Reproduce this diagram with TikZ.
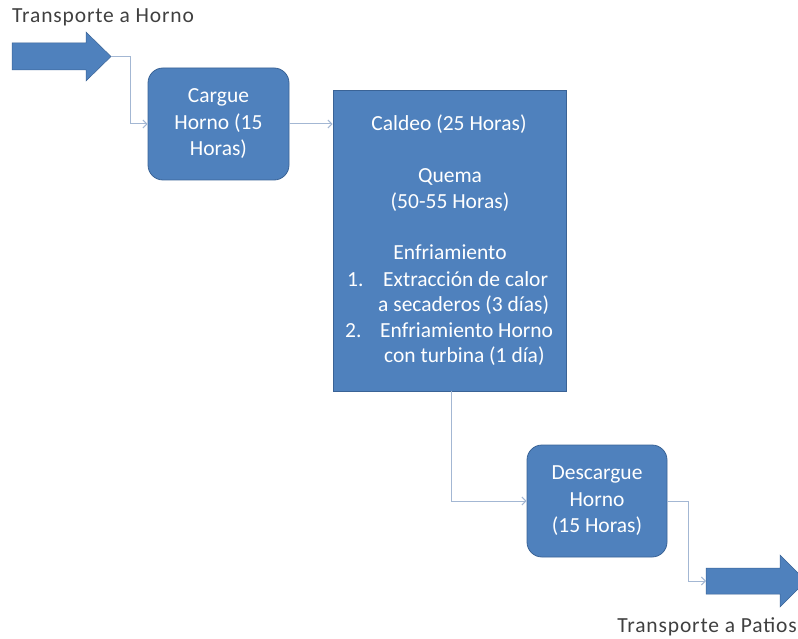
\documentclass[tikz,border=0pt]{standalone}
\usepackage{fontspec}
\setmainfont{Carlito}
\usetikzlibrary{arrows.meta}
\definecolor{boxblue}{HTML}{4F81BD}
\definecolor{boxedge}{HTML}{3A6396}
\definecolor{linkc}{HTML}{A3B7D3}
\definecolor{labelc}{HTML}{404040}
\tikzset{
  procbox/.style={draw=boxedge, line width=0.8pt, fill=boxblue, text=white, align=center,
    font=\fontsize{21.5}{26.5}\selectfont, inner sep=0pt},
  roundbox/.style={procbox, rounded corners=15pt},
  intext/.style={text=white, font=\fontsize{21.5}{26}\selectfont, anchor=base, inner sep=0pt},
  lbl/.style={text=labelc, font=\addfontfeatures{LetterSpace=4}\fontsize{21.5}{24}\selectfont, inner sep=0pt},
  link/.style={draw=linkc, line width=1pt, -{Straight Barb[length=4pt,width=8pt]}},
  bigarrow/.style={fill=boxblue, draw=boxedge, line width=0.5pt},
}
\begin{document}
\begin{tikzpicture}[x=1pt,y=-1pt]
\useasboundingbox (0,0) rectangle (798,639);

% labels
\node[lbl, anchor=west] (lin) at (12,17) {Transporte a Horno};
\node[lbl, anchor=east] (lout) at (797,627) {Transporte a Patios};

% input arrow
\draw[bigarrow] (12,43) -- (86,43) -- (86,32) -- (111,56.5) -- (86,81) -- (86,70) -- (12,70) -- cycle;
\coordinate (intip) at (111,56.5);

% output arrow
\draw[bigarrow] (706,568) -- (780,568) -- (780,555) -- (806,581) -- (780,607) -- (780,594) -- (706,594) -- cycle;
\coordinate (outtail) at (706,581);

% boxes
\node[roundbox, minimum width=141pt, minimum height=112pt] (cargue) at (218.5,124)
  {Cargue\\Horno (15\\Horas)};
\node[procbox, minimum width=233pt, minimum height=301pt] (horno) at (449.5,240.5) {};
\node[roundbox, minimum width=140pt, minimum height=112pt] (desc) at (597,501)
  {Descargue\\Horno\\(15 Horas)};

% text inside the big box
\node[intext] (t1) at (449,131) {Caldeo (25 Horas)};
\node[intext] (t2) at (450,183) {Quema};
\node[intext] (t3) at (450,208.5) {(50-55 Horas)};
\node[intext] (t4) at (450,260) {Enfriamiento};
\node[intext, anchor=base west] (n1) at (347,286) {1.};
\node[intext, anchor=base west] (t5) at (383,286) {Extracción de calor};
\node[intext, anchor=base west] (t6) at (378,311.5) {a secaderos (3 días)};
\node[intext, anchor=base west] (n2) at (345,337) {2.};
\node[intext, anchor=base west] (t7) at (380,337) {Enfriamiento Horno};
\node[intext, anchor=base west] (t8) at (384,362.5) {con turbina (1 día)};

% connectors
\draw[link] (intip) -- (130,56.5) |- (cargue.west);
\draw[link] (cargue.east) -- (horno.west |- cargue.east);
\draw[link] (451,391) |- (desc.west);
\draw[link] (desc.east) -- (688,501) |- (outtail);
\end{tikzpicture}
\end{document}
